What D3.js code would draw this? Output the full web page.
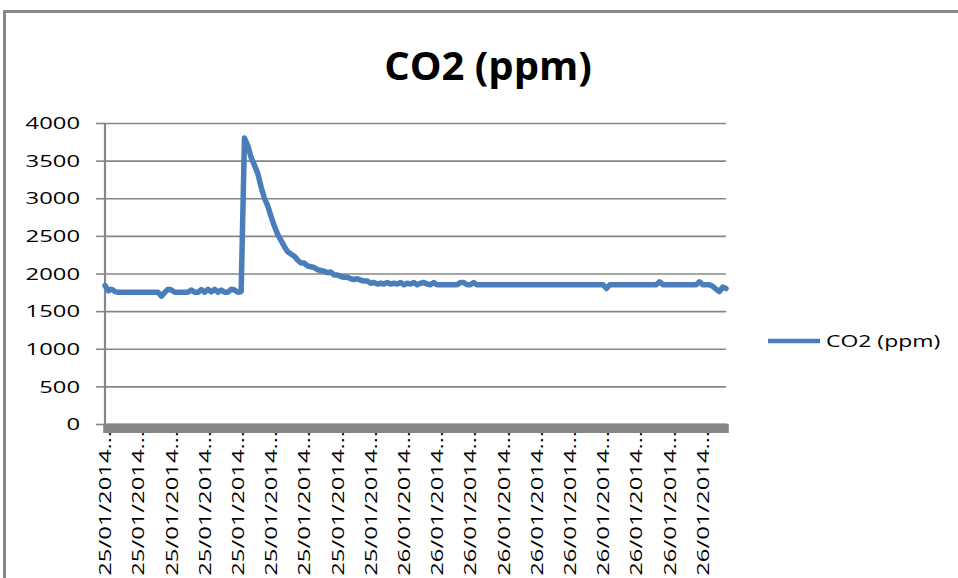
<!DOCTYPE html>
<html>
<head>
<meta charset="utf-8">
<script src="https://cdn.jsdelivr.net/npm/d3@7"></script>
<style>
  body { margin: 0; background: #fff; }
  text { font-family: "Open Sans", sans-serif; fill: #000; }
</style>
</head>
<body>
<div id="chart"></div>
<script>
// data
var chartTitle = "CO2 (ppm)";
var seriesName = "CO2 (ppm)";

var co2 = [
  1840, 1770, 1790, 1760, 1750, 1750, 1750, 1750, 1750, 1750,
  1750, 1750, 1750, 1750, 1750, 1750, 1750, 1700, 1750, 1790,
  1780, 1750, 1750, 1750, 1750, 1750, 1780, 1750, 1750, 1785,
  1750, 1790, 1755, 1790, 1750, 1780, 1750, 1750, 1790, 1780,
  1750, 1760, 3800, 3700, 3540, 3440, 3330, 3150, 3000, 2900,
  2760, 2630, 2520, 2440, 2360, 2290, 2260, 2230, 2180, 2140,
  2140, 2100, 2090, 2080, 2050, 2040, 2030, 2010, 2020, 1980,
  1980, 1960, 1950, 1950, 1930, 1920, 1930, 1910, 1900, 1900,
  1870, 1880, 1860, 1870, 1860, 1880, 1860, 1870, 1860, 1880,
  1850, 1870, 1860, 1880, 1850, 1870, 1880, 1860, 1850, 1880,
  1850, 1850, 1850, 1850, 1850, 1850, 1850, 1880, 1880, 1850,
  1850, 1880, 1850, 1850, 1850, 1850, 1850, 1850, 1850, 1850,
  1850, 1850, 1850, 1850, 1850, 1850, 1850, 1850, 1850, 1850,
  1850, 1850, 1850, 1850, 1850, 1850, 1850, 1850, 1850, 1850,
  1850, 1850, 1850, 1850, 1850, 1850, 1850, 1850, 1850, 1850,
  1850, 1800, 1850, 1850, 1850, 1850, 1850, 1850, 1850, 1850,
  1850, 1850, 1850, 1850, 1850, 1850, 1850, 1890, 1850, 1850,
  1850, 1850, 1850, 1850, 1850, 1850, 1850, 1850, 1850, 1890,
  1850, 1850, 1850, 1830, 1790, 1760, 1820, 1800
];

// one visible label every 10 readings (excel hides the rest)
var xLabels = [
  "25/01/2014…", "25/01/2014…", "25/01/2014…", "25/01/2014…", "25/01/2014…",
  "25/01/2014…", "25/01/2014…", "25/01/2014…", "25/01/2014…",
  "26/01/2014…", "26/01/2014…", "26/01/2014…", "26/01/2014…", "26/01/2014…",
  "26/01/2014…", "26/01/2014…", "26/01/2014…", "26/01/2014…", "26/01/2014…"
];
var labelEvery = 10;
var yTicks = [0, 500, 1000, 1500, 2000, 2500, 3000, 3500, 4000];

var width = 958, height = 578;
var grey = "#878787";
var blue = "#4a7ebb";
var stretch = 1.4; // the text in the picture is drawn wide

var svg = d3.select("#chart")
    .append("svg")
    .attr("width", width)
    .attr("height", height);

// chart frame (runs off the right and bottom of the picture)
svg.append("rect")
    .attr("x", 4.5).attr("y", 11.5)
    .attr("width", 1000).attr("height", 1000)
    .attr("fill", "none")
    .attr("stroke", grey)
    .attr("stroke-width", 3);

var x = d3.scaleLinear().domain([0, co2.length - 1]).range([105, 726]);
var y = d3.scaleLinear().domain([0, 4000]).range([424, 123]);

// title
svg.append("text")
    .attr("x", 488).attr("y", 80)
    .attr("text-anchor", "middle")
    .style("font-size", "40px")
    .style("font-weight", "bold")
    .text(chartTitle);

// gridlines
var grid = svg.append("g")
    .attr("transform", "translate(105,0)")
    .call(d3.axisLeft(y).tickValues(yTicks).tickSize(-621).tickFormat(""));
grid.select(".domain").remove();
grid.selectAll("line").attr("stroke", grey).attr("stroke-width", 1.6);

// y axis ticks + labels
var yAxis = svg.append("g")
    .attr("transform", "translate(105,0)")
    .call(d3.axisLeft(y).tickValues(yTicks).tickSize(9).tickFormat(""));
yAxis.select(".domain").remove();
yAxis.selectAll("line").attr("stroke", grey).attr("stroke-width", 1.6);

svg.selectAll(".ylab")
    .data(yTicks)
    .enter()
    .append("text")
    .attr("class", "ylab")
    .attr("transform", function(d) { return "translate(80," + y(d) + ") scale(" + stretch + ",1)"; })
    .attr("text-anchor", "end")
    .attr("dy", "0.36em")
    .style("font-size", "17px")
    .text(function(d) { return d; });

svg.append("line")
    .attr("x1", 105).attr("x2", 105)
    .attr("y1", y(4000)).attr("y2", 433)
    .attr("stroke", grey)
    .attr("stroke-width", 2.2);

// category axis: so many tick marks they turn into a grey band
var xAxis = svg.append("g")
    .attr("transform", "translate(0," + y(0) + ")")
    .call(d3.axisBottom(x).tickValues(d3.range(co2.length)).tickSize(9).tickFormat(""));
xAxis.select(".domain").attr("stroke", grey).attr("stroke-width", 2);
xAxis.selectAll("line").attr("stroke", grey).attr("stroke-width", 4.6);

svg.selectAll(".xlab")
    .data(xLabels)
    .enter()
    .append("text")
    .attr("class", "xlab")
    .attr("transform", function(d, i) {
        return "translate(" + x(i * labelEvery) + ",431) rotate(-90) scale(" + stretch + ",1)";
    })
    .attr("text-anchor", "end")
    .attr("dy", "0.36em")
    .style("font-size", "17px")
    .text(function(d) { return d; });

// the series
var line = d3.line()
    .x(function(d, i) { return x(i); })
    .y(function(d) { return y(d); });

svg.append("path")
    .datum(co2)
    .attr("d", line)
    .attr("fill", "none")
    .attr("stroke", blue)
    .attr("stroke-width", 5.5)
    .attr("stroke-linejoin", "round")
    .attr("stroke-linecap", "round");

// legend
svg.append("line")
    .attr("x1", 768).attr("x2", 820)
    .attr("y1", 341).attr("y2", 341)
    .attr("stroke", blue)
    .attr("stroke-width", 4.5);

svg.append("text")
    .attr("transform", "translate(826,341) scale(" + (stretch - 0.05) + ",1)")
    .attr("dy", "0.36em")
    .style("font-size", "17px")
    .text(seriesName);
</script>
</body>
</html>
